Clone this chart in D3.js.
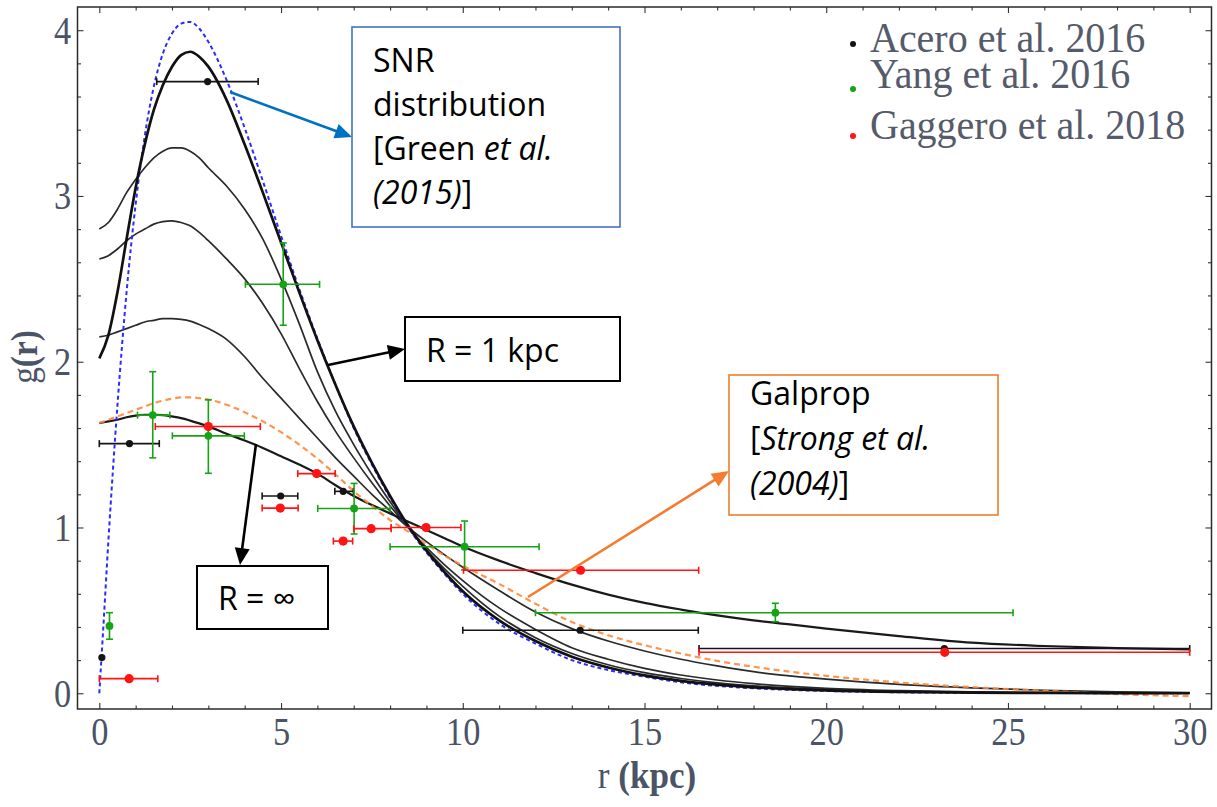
<!DOCTYPE html>
<html>
<head>
<meta charset="utf-8">
<script src="https://cdn.jsdelivr.net/npm/d3@7"></script>
<style>
  body { margin: 0; background: #fff; }
  svg { display: block; }
</style>
</head>
<body>
<svg id="chart" width="1217" height="807"></svg>
<script>
// ---------------- data ----------------
// axis ticks
const xTicks = [0, 5, 10, 15, 20, 25, 30];
const yTicks = [0, 1, 2, 3, 4];

// radial grid (kpc) for the propagated-source model curves
const rGrid = [0,0.25,0.5,0.75,1,1.25,1.5,1.75,2,2.25,2.5,2.75,
               3,3.5,4,4.5,5,5.5,6,6.5,7,7.5,8,8.5,9,9.5,10,
               11,12,13,14,15,16,17,18,19,20,
               22,24,26,28,30];

// model g(r) for R = 1 kpc
const gR1kpc = [2.02,2.16,2.42,2.74,3.05,3.31,3.52,3.67,3.78,3.85,3.87,3.84,
                3.78,3.58,3.31,3.02,2.72,2.42,2.13,1.86,1.61,1.39,1.19,1.01,0.86,0.73,0.615,
                0.44,0.315,0.22,0.155,0.108,0.075,0.052,0.036,0.025,0.017,
                0.008,0.004,0.002,0.001,0.0];
// intermediate R values (progressively larger)
const gRmidB = [2.80,2.84,2.92,3.02,3.10,3.17,3.23,3.27,3.29,3.29,3.27,3.23,
                3.17,3.06,2.92,2.74,2.50,2.23,1.94,1.70,1.50,1.32,1.155,1.0,0.865,0.75,0.645,
                0.465,0.335,0.24,0.172,0.124,0.089,0.063,0.045,0.032,0.022,
                0.011,0.005,0.002,0.001,0.0];
const gRmidC = [2.62,2.64,2.68,2.73,2.77,2.80,2.83,2.845,2.85,2.84,2.82,2.78,
                2.73,2.62,2.50,2.35,2.17,1.96,1.76,1.58,1.42,1.27,1.13,1.0,0.88,0.775,0.68,
                0.515,0.385,0.275,0.205,0.15,0.11,0.08,0.058,0.042,0.03,
                0.016,0.008,0.004,0.002,0.001];
const gRmidD = [2.15,2.16,2.18,2.20,2.22,2.24,2.25,2.26,2.26,2.255,2.245,2.225,
                2.20,2.135,2.03,1.90,1.78,1.66,1.54,1.42,1.31,1.20,1.10,1.0,0.915,0.835,0.76,
                0.62,0.49,0.39,0.315,0.255,0.205,0.165,0.13,0.105,0.085,
                0.053,0.032,0.018,0.009,0.004];
// model g(r) for R = infinity
const gRinf = [1.63,1.64,1.65,1.665,1.675,1.68,1.68,1.678,1.67,1.66,1.645,1.628,
               1.61,1.565,1.525,1.48,1.43,1.38,1.325,1.255,1.19,1.135,1.085,1.035,0.985,0.935,0.885,
               0.80,0.725,0.655,0.595,0.545,0.505,0.47,0.44,0.415,0.39,
               0.345,0.305,0.285,0.272,0.265];
// Galprop source distribution (Strong et al. 2004)
const gGalprop = [1.63,1.65,1.67,1.69,1.71,1.73,1.75,1.765,1.777,1.785,1.785,1.78,
                  1.772,1.74,1.695,1.64,1.575,1.50,1.415,1.32,1.22,1.13,1.045,0.975,0.90,0.83,0.77,
                  0.66,0.54,0.43,0.35,0.29,0.24,0.195,0.16,0.13,0.105,
                  0.065,0.037,0.015,-0.005,-0.018];

// SNR distribution (Green et al. 2015)
const snrR = [0,0.1,0.25,0.5,0.75,1,1.25,1.5,1.75,2,2.25,2.5,2.75,3,3.5,4,4.5,5,5.5,6,
              6.5,7,7.5,8,8.5,9,9.5,10,11,12,13,14,15,16,18,20,22,25,30];
const snrG = [0,0.36,0.92,1.74,2.42,2.95,3.36,3.66,3.86,3.98,4.04,4.05,4.01,3.93,3.70,3.41,3.09,2.76,2.44,2.14,
              1.86,1.60,1.38,1.18,1.00,0.85,0.72,0.60,0.42,0.30,0.20,0.14,0.10,0.066,0.030,0.014,0.006,0.002,0.0];

// Acero et al. 2016
const aceroR   = [0.07, 0.83, 2.98, 4.99, 6.71, 13.23, 23.25];
const aceroG   = [0.215, 1.506, 3.69, 1.19, 1.218, 0.38, 0.27];
const aceroRlo = [0.07, 0.0, 1.58, 4.48, 6.48, 10.0, 16.5];
const aceroRhi = [0.07, 1.65, 4.37, 5.46, 6.99, 16.48, 30.0];

// Yang et al. 2016
const yangR   = [0.28, 1.47, 3.0, 5.06, 7.01, 10.05, 18.6];
const yangG   = [0.406, 1.678, 1.553, 2.467, 1.115, 0.884, 0.486];
const yangRlo = [0.28, 1.05, 2.01, 4.02, 6.01, 8.0, 12.0];
const yangRhi = [0.28, 1.94, 3.99, 6.06, 8.0, 12.1, 25.14];
const yangGlo = [0.326, 1.42, 1.327, 2.22, 0.961, 0.744, 0.432];
const yangGhi = [0.486, 1.94, 1.77, 2.717, 1.266, 1.039, 0.543];

// Gaggero et al. 2018
const gaggeroR   = [0.82, 3.0, 4.98, 5.98, 6.71, 7.48, 8.99, 13.24, 23.26];
const gaggeroG   = [0.088, 1.609, 1.117, 1.325, 0.918, 0.993, 1.0, 0.742, 0.247];
const gaggeroRlo = [0.0, 1.54, 4.48, 5.46, 6.44, 7.0, 8.03, 10.02, 16.5];
const gaggeroRhi = [1.61, 4.43, 5.47, 6.49, 6.97, 8.03, 9.95, 16.49, 30.0];

const legendLabels = ["Acero et al. 2016", "Yang et al. 2016", "Gaggero et al. 2018"];

// ---------------- layout ----------------
const svg = d3.select("#chart");
const frame = { left: 77.5, right: 1211.5, top: 7, bottom: 709 };
const x = d3.scaleLinear().domain([-0.6, 30.6]).range([frame.left, frame.right]);
const y = d3.scaleLinear().domain([-0.095, 4.14]).range([frame.bottom, frame.top]);

const serif = "'Liberation Serif', 'DejaVu Serif', serif";
const sans = "'Open Sans', 'Noto Sans', sans-serif";
const labelColor = "#4b5366";

svg.append("rect").attr("width", 1217).attr("height", 807).attr("fill", "#fff");

// ---------------- frame and ticks ----------------
const xMinor = d3.range(0, 31).filter(v => v % 5 !== 0);
const yMinor = d3.range(0, 4.01, 0.2).filter(v => Math.abs(v - Math.round(v)) > 1e-6);
const tickLen = 6, minorLen = 3.5;

function tickAxis(axisGen, transform, values, size, labelled) {
  const g = svg.append("g").attr("transform", transform)
    .call(axisGen.tickValues(values).tickSize(size).tickFormat(labelled ? d3.format("d") : ""));
  g.select(".domain").remove();
  g.selectAll(".tick line").attr("stroke", "#333").attr("stroke-width", 1.1);
  return g;
}

const xAxisB = tickAxis(d3.axisBottom(x), `translate(0,${frame.bottom})`, xTicks, -tickLen, true);
tickAxis(d3.axisBottom(x), `translate(0,${frame.bottom})`, xMinor, -minorLen, false);
tickAxis(d3.axisTop(x), `translate(0,${frame.top})`, xTicks, -tickLen, false);
tickAxis(d3.axisTop(x), `translate(0,${frame.top})`, xMinor, -minorLen, false);
const yAxisL = tickAxis(d3.axisLeft(y), `translate(${frame.left},0)`, yTicks, -tickLen, true);
tickAxis(d3.axisLeft(y), `translate(${frame.left},0)`, yMinor, -minorLen, false);
tickAxis(d3.axisRight(y), `translate(${frame.right},0)`, yTicks, -tickLen, false);
tickAxis(d3.axisRight(y), `translate(${frame.right},0)`, yMinor, -minorLen, false);

xAxisB.selectAll(".tick text")
  .attr("y", 36).attr("dy", 0)
  .attr("transform", "scale(0.86,1)")
  .style("font-family", serif).style("font-size", "40px").attr("fill", labelColor);
yAxisL.selectAll(".tick text")
  .attr("x", -7.4).attr("dy", "0.32em")
  .attr("transform", "scale(0.86,1)")
  .style("font-family", serif).style("font-size", "40px").attr("fill", labelColor);

svg.append("rect")
  .attr("x", frame.left).attr("y", frame.top)
  .attr("width", frame.right - frame.left).attr("height", frame.bottom - frame.top)
  .attr("fill", "none").attr("stroke", "#2a2a2a").attr("stroke-width", 1.5);

// axis titles
const xTitle = svg.append("text")
  .attr("transform", `translate(647,788) scale(0.9,1)`)
  .attr("text-anchor", "middle")
  .style("font-family", serif).style("font-size", "39px").attr("fill", labelColor);
xTitle.append("tspan").text("r ");
xTitle.append("tspan").attr("font-weight", "bold").text("(kpc)");

const yTitle = svg.append("text")
  .attr("transform", `translate(37,357) rotate(-90) scale(0.9,1)`)
  .attr("text-anchor", "middle")
  .style("font-family", serif).style("font-size", "37px").attr("fill", labelColor);
yTitle.append("tspan").text("g");
yTitle.append("tspan").attr("font-weight", "bold").text("(r)");

// ---------------- model curves ----------------
const plot = svg.append("g");
const line = d3.line().x(d => x(d[0])).y(d => y(d[1])).curve(d3.curveMonotoneX);
const zipped = (rs, gs) => rs.map((r, i) => [r, gs[i]]);

function curve(rs, gs, stroke, width, dash, opacity) {
  plot.append("path")
    .attr("d", line(zipped(rs, gs)))
    .attr("fill", "none")
    .attr("stroke", stroke)
    .attr("stroke-width", width)
    .attr("stroke-dasharray", dash || null)
    .attr("stroke-opacity", opacity || 1)
    .attr("stroke-linejoin", "round");
}

curve(rGrid, gRmidD, "#2a2a2a", 1.7);
curve(rGrid, gRmidC, "#2a2a2a", 1.7);
curve(rGrid, gRmidB, "#2a2a2a", 1.7);
curve(rGrid, gRinf, "#1a1a1a", 2.2);
curve(rGrid, gGalprop, "#ff8a3a", 2.2, "6,4", 0.9);
curve(snrR, snrG, "#2b2bff", 2, "4,3");
curve(rGrid, gR1kpc, "#111", 2.7);

// ---------------- data points ----------------
function series(rs, gs, rlo, rhi, glo, ghi, color, radius) {
  const g = plot.append("g").attr("stroke", color).attr("fill", color).attr("stroke-width", 1.6);
  const cap = 3.5;
  rs.forEach((r, i) => {
    const cx = x(r), cy = y(gs[i]);
    if (rlo[i] !== rhi[i]) {
      g.append("line").attr("x1", x(rlo[i])).attr("x2", x(rhi[i])).attr("y1", cy).attr("y2", cy);
      [rlo[i], rhi[i]].forEach(v =>
        g.append("line").attr("x1", x(v)).attr("x2", x(v)).attr("y1", cy - cap).attr("y2", cy + cap));
    }
    if (glo && glo[i] !== ghi[i]) {
      g.append("line").attr("x1", cx).attr("x2", cx).attr("y1", y(glo[i])).attr("y2", y(ghi[i]));
      [glo[i], ghi[i]].forEach(v =>
        g.append("line").attr("x1", cx - cap).attr("x2", cx + cap).attr("y1", y(v)).attr("y2", y(v)));
    }
    g.append("circle").attr("cx", cx).attr("cy", cy).attr("r", radius).attr("stroke", "none");
  });
}

const cBlack = "#141414", cGreen = "#16a316", cRed = "#ff1414";
series(aceroR, aceroG, aceroRlo, aceroRhi, null, null, cBlack, 3.6);
series(yangR, yangG, yangRlo, yangRhi, yangGlo, yangGhi, cGreen, 3.9);
series(gaggeroR, gaggeroG, gaggeroRlo, gaggeroRhi, null, null, cRed, 4.6);

// ---------------- legend ----------------
const legendColors = [cBlack, cGreen, cRed];
const legendBaseline = [52, 88, 139];
const legendDotY = [44, 89, 136];
legendLabels.forEach((t, i) => {
  svg.append("circle").attr("cx", 853).attr("cy", legendDotY[i]).attr("r", 3).attr("fill", legendColors[i]);
  svg.append("text")
    .attr("transform", `translate(870,${legendBaseline[i]}) scale(1.0,1.06)`)
    .style("font-family", serif).style("font-size", "40px").attr("fill", "#555b6a")
    .text(t);
});

// ---------------- annotations ----------------
const notes = svg.append("g");

function arrow(x1, y1, x2, y2, color, w) {
  const dx = x2 - x1, dy = y2 - y1, L = Math.hypot(dx, dy);
  const ux = dx / L, uy = dy / L, hl = 17, hw = 7.5;
  const bx = x2 - ux * hl, by = y2 - uy * hl;
  notes.append("line").attr("x1", x1).attr("y1", y1).attr("x2", bx + ux * 2).attr("y2", by + uy * 2)
    .attr("stroke", color).attr("stroke-width", w);
  notes.append("polygon")
    .attr("points", `${x2},${y2} ${bx - uy * hw},${by + ux * hw} ${bx + uy * hw},${by - ux * hw}`)
    .attr("fill", color);
}

function box(bx, by, bw, bh, stroke, sw) {
  notes.append("rect").attr("x", bx).attr("y", by).attr("width", bw).attr("height", bh)
    .attr("fill", "#fff").attr("stroke", stroke).attr("stroke-width", sw);
}

function textLines(tx, baselines, lines) {
  lines.forEach((parts, i) => {
    const t = notes.append("text").attr("x", tx).attr("y", baselines[i])
      .style("font-family", sans).style("font-size", "32px").attr("fill", "#000");
    parts.forEach(p => t.append("tspan").attr("font-style", p[1] ? "italic" : null).text(p[0]));
  });
}

// SNR distribution box
arrow(230, 92, 352, 137, "#0070c0", 2.6);
box(352, 27, 268, 200, "#4472c4", 1.6);
textLines(373, [71.5, 115.5, 159.5, 203.5], [
  [["SNR", false]],
  [["distribution", false]],
  [["[Green ", false], ["et al.", true]],
  [["(2015)", true], ["]", false]]
]);

// R = 1 kpc box
arrow(328, 365, 405, 349, "#000", 2.6);
box(405, 317, 215, 64, "#000", 2);
textLines(426, [362], [[["R = 1 kpc", false]]]);

// R = infinity box
arrow(256, 444, 240, 565, "#000", 2.6);
box(197, 566, 131, 63, "#000", 2);
textLines(218, [610], [[["R = \u221E", false]]]);

// Galprop box
arrow(528, 597, 729, 471, "#f47b30", 2.6);
box(729, 375, 269, 140, "#ed7d31", 1.6);
textLines(750, [405, 450, 495], [
  [["Galprop", false]],
  [["[", false], ["Strong et al.", true]],
  [["(2004)", true], ["]", false]]
]);
</script>
</body>
</html>
